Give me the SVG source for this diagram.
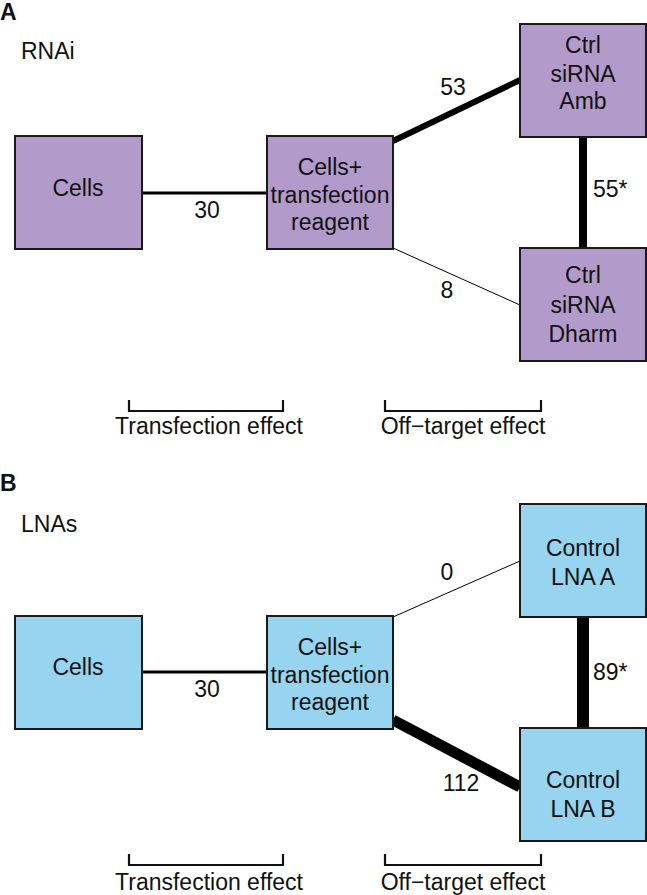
<svg xmlns="http://www.w3.org/2000/svg" width="647" height="895" viewBox="0 0 647 895">
<style>
text{font-family:"Liberation Sans",Arial,sans-serif;fill:#111;}
.t{font-size:23px;text-anchor:middle;}
.l{font-size:23px;}
.h{font-size:23px;font-weight:bold;}
.pa{fill:#B29BCB;stroke:#1a1a1a;stroke-width:2;}
.pb{fill:#96D4EF;stroke:#1a1a1a;stroke-width:2;}
.c{stroke:#000;fill:none;stroke-linecap:butt;}
.br{stroke:#111;stroke-width:2.2;fill:none;}
</style>
<rect width="647" height="895" fill="#fff"/>
<text class="h" x="0" y="20">A</text>
<text class="l" x="21" y="59">RNAi</text>
<text class="h" x="0" y="491">B</text>
<text class="l" x="21" y="532">LNAs</text>
<g id="connectors">
<line class="c" x1="142" y1="193" x2="267" y2="193" stroke-width="3"/>
<line class="c" x1="393" y1="141" x2="520" y2="80" stroke-width="6"/>
<line class="c" x1="583" y1="137" x2="583" y2="248" stroke-width="8"/>
<line class="c" x1="393" y1="248" x2="520" y2="305" stroke-width="1"/>
<line class="c" x1="142" y1="672" x2="267" y2="672" stroke-width="3"/>
<line class="c" x1="393" y1="617" x2="520" y2="561" stroke-width="1"/>
<line class="c" x1="393" y1="720" x2="520" y2="787" stroke-width="11"/>
<line class="c" x1="583" y1="617" x2="583" y2="728" stroke-width="12"/>
</g>
<g id="edge-labels">
<text class="t" x="207" y="218">30</text>
<text class="t" x="453" y="95">53</text>
<text class="l" x="593" y="197">55*</text>
<text class="t" x="447" y="298">8</text>
<text class="t" x="207" y="697">30</text>
<text class="t" x="447" y="580">0</text>
<text class="t" x="461" y="791">112</text>
<text class="l" x="593" y="680">89*</text>
</g>
<g id="nodeA-cells"><rect class="pa" x="15" y="136" width="127" height="113"/><text class="t" x="78" y="196">Cells</text></g>
<g id="nodeA-reagent"><rect class="pa" x="267" y="136" width="126" height="113"/><text class="t" x="330" y="175">Cells+</text><text class="t" x="330" y="203">transfection</text><text class="t" x="330" y="230">reagent</text></g>
<g id="nodeA-amb"><rect class="pa" x="520" y="24" width="126" height="113"/><text class="t" x="583" y="53">Ctrl</text><text class="t" x="583" y="82">siRNA</text><text class="t" x="583" y="109">Amb</text></g>
<g id="nodeA-dharm"><rect class="pa" x="520" y="248" width="126" height="113"/><text class="t" x="583" y="283">Ctrl</text><text class="t" x="583" y="313">siRNA</text><text class="t" x="583" y="342">Dharm</text></g>
<g id="nodeB-cells"><rect class="pb" x="15" y="616" width="127" height="113"/><text class="t" x="78" y="675">Cells</text></g>
<g id="nodeB-reagent"><rect class="pb" x="267" y="616" width="126" height="113"/><text class="t" x="330" y="655">Cells+</text><text class="t" x="330" y="683">transfection</text><text class="t" x="330" y="710">reagent</text></g>
<g id="nodeB-lnaA"><rect class="pb" x="520" y="504" width="126" height="113"/><text class="t" x="583" y="556">Control</text><text class="t" x="583" y="585">LNA A</text></g>
<g id="nodeB-lnaB"><rect class="pb" x="520" y="728" width="126" height="113"/><text class="t" x="583" y="788">Control</text><text class="t" x="583" y="817">LNA B</text></g>
<g id="brackets">
<polyline class="br" points="129,400 129,411 283,411 283,400"/>
<polyline class="br" points="385,400 385,411 541,411 541,400"/>
<text class="t" x="209" y="434">Transfection effect</text>
<text class="t" x="463" y="434">Off−target effect</text>
<polyline class="br" points="129,854 129,865 283,865 283,854"/>
<polyline class="br" points="385,854 385,865 541,865 541,854"/>
<text class="t" x="209" y="890">Transfection effect</text>
<text class="t" x="463" y="890">Off−target effect</text>
</g>
</svg>
